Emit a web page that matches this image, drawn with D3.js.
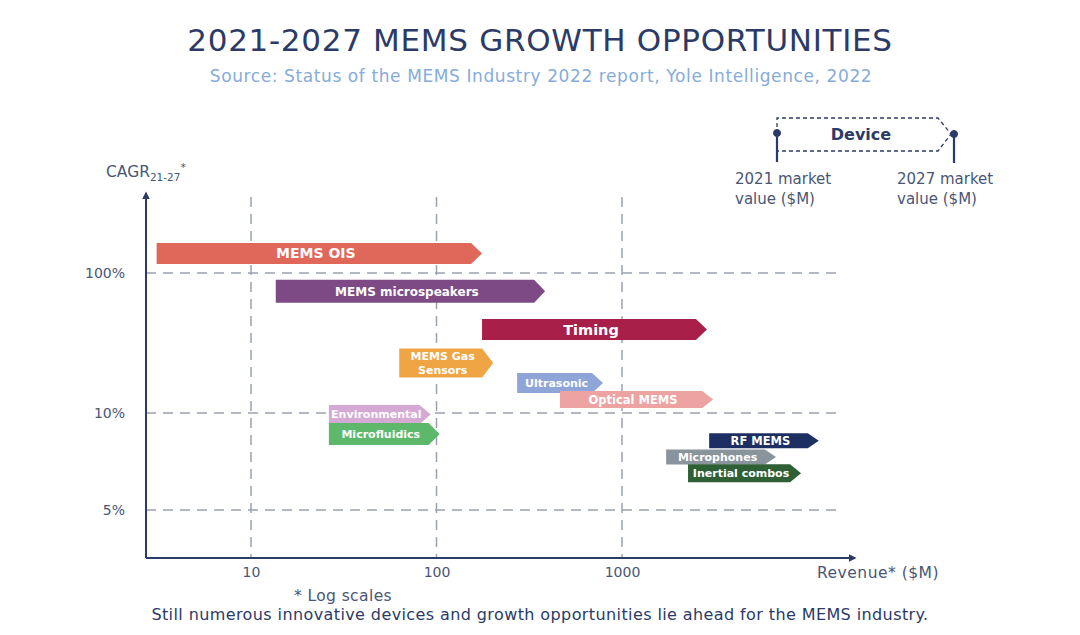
<!DOCTYPE html>
<html>
<head>
<meta charset="utf-8">
<script src="https://cdn.jsdelivr.net/npm/d3@7"></script>
<style>
  body { margin: 0; background: #fff; }
  svg { display: block; font-family: "DejaVu Sans", sans-serif; }
</style>
</head>
<body>
<svg id="chart" width="1080" height="635"></svg>
<script>
// devices, 2021 / 2027 revenue ($M) and CAGR 21-27 (%)
var devices  = ['MEMS OIS', 'MEMS microspeakers', 'Timing', 'MEMS Gas\nSensors', 'Ultrasonic',
                'Optical MEMS', 'Environmental', 'Microfluidics', 'RF MEMS', 'Microphones', 'Inertial combos'];
var rev2021  = [3.1, 13.6, 176, 63, 272, 463, 26.3, 26.3, 2950, 1730, 2270];
var rev2027  = [176, 385, 2870, 202, 790, 3100, 93, 104, 11500, 6760, 9230];
var cagr     = [138, 74, 39.5, 22.8, 16.4, 12.5, 9.9, 8.6, 8.2, 7.3, 6.5];

var xTicks = [10, 100, 1000];
var yTicks = [5, 10, 100];

// look of each arrow (colour, bar height, label size)
var looks = {
  'MEMS OIS':           { fill: '#e0685b', h: 21, fs: 14 },
  'MEMS microspeakers': { fill: '#7d4a86', h: 23, fs: 12 },
  'Timing':             { fill: '#a8204a', h: 21, fs: 14.5 },
  'MEMS Gas\nSensors':  { fill: '#efa544', h: 29, fs: 11 },
  'Ultrasonic':         { fill: '#8fa5d8', h: 20, fs: 11 },
  'Optical MEMS':       { fill: '#eca3a1', h: 17, fs: 11.5 },
  'Environmental':      { fill: '#d4aad4', h: 19, fs: 11 },
  'Microfluidics':      { fill: '#5db86b', h: 22, fs: 11 },
  'RF MEMS':            { fill: '#1d2e63', h: 15, fs: 11.5 },
  'Microphones':        { fill: '#8a949d', h: 15, fs: 11 },
  'Inertial combos':    { fill: '#2e5f35', h: 18, fs: 11 }
};

var NAVY = '#2b3a67', GREY = '#4a5675', GRID = '#9aa2ae', TIP = 11;

var svg = d3.select('#chart');

var x = d3.scaleLog().domain([10, 1000]).range([251, 622]);
var y = d3.scaleLog().domain([5, 10, 100]).range([510, 413, 273]);

var axLeft = 146, axBottom = 558, axRight = 855, axTop = 193;

// titles
svg.append('text').attr('x', 540).attr('y', 51).attr('text-anchor', 'middle')
  .attr('fill', NAVY).style('font-size', '31px').style('letter-spacing', '0.7px')
  .text('2021-2027 MEMS GROWTH OPPORTUNITIES');
svg.append('text').attr('x', 541).attr('y', 82).attr('text-anchor', 'middle')
  .attr('fill', '#86acd9').style('font-size', '17px').style('letter-spacing', '0.6px')
  .text('Source: Status of the MEMS Industry 2022 report, Yole Intelligence, 2022');

// gridlines
var grid = svg.append('g').attr('stroke', GRID).attr('stroke-width', 1.5)
  .attr('stroke-dasharray', '10,7');
grid.selectAll('.gx').data(xTicks).enter().append('line')
  .attr('x1', d => x(d)).attr('x2', d => x(d))
  .attr('y1', 197).attr('y2', axBottom);
grid.selectAll('.gy').data(yTicks).enter().append('line')
  .attr('x1', axLeft).attr('x2', 838)
  .attr('y1', d => y(d)).attr('y2', d => y(d));

// axes with arrow heads
svg.append('defs').append('marker').attr('id', 'arr')
  .attr('viewBox', '0 0 10 10').attr('refX', 8).attr('refY', 5)
  .attr('markerWidth', 4).attr('markerHeight', 4).attr('orient', 'auto')
  .append('path').attr('d', 'M0,0L10,5L0,10z').attr('fill', NAVY);
svg.append('line').attr('x1', axLeft).attr('y1', axBottom).attr('x2', axLeft).attr('y2', axTop)
  .attr('stroke', NAVY).attr('stroke-width', 2).attr('marker-end', 'url(#arr)');
svg.append('line').attr('x1', axLeft).attr('y1', axBottom).attr('x2', axRight).attr('y2', axBottom)
  .attr('stroke', NAVY).attr('stroke-width', 2).attr('marker-end', 'url(#arr)');

var xa = svg.append('g').attr('transform', 'translate(0,' + (axBottom + 6) + ')')
  .call(d3.axisBottom(x).tickValues(xTicks).tickSize(0).tickFormat(d3.format('d')));
var ya = svg.append('g').attr('transform', 'translate(' + (axLeft - 18) + ',0)')
  .call(d3.axisLeft(y).tickValues(yTicks).tickSize(0).tickFormat(d => d + '%'));
[xa, ya].forEach(function(a) {
  a.select('.domain').remove();
  a.selectAll('text').attr('fill', GREY).style('font-size', '14px')
    .style('font-family', '"DejaVu Sans", sans-serif');
});

// axis titles
var cag = svg.append('text').attr('x', 106).attr('y', 177).attr('fill', GREY)
  .style('font-size', '15.5px');
cag.append('tspan').text('CAGR');
cag.append('tspan').attr('dy', 4).style('font-size', '10.5px').text('21-27');
cag.append('tspan').attr('dy', -10).style('font-size', '11px').text('*');
svg.append('text').attr('x', 817).attr('y', 578).attr('fill', GREY)
  .style('font-size', '15.5px').style('letter-spacing', '0.5px').text('Revenue* ($M)');
svg.append('text').attr('x', 343).attr('y', 601).attr('text-anchor', 'middle')
  .attr('fill', GREY).style('font-size', '15.5px').style('letter-spacing', '0.4px').text('* Log scales');
svg.append('text').attr('x', 540).attr('y', 620).attr('text-anchor', 'middle')
  .attr('fill', NAVY).style('font-size', '16px').style('letter-spacing', '0.4px')
  .text('Still numerous innovative devices and growth opportunities lie ahead for the MEMS industry.');

// arrows
var rows = devices.map(function(d, i) {
  return { name: d, x0: x(rev2021[i]), x1: x(rev2027[i]), cy: y(cagr[i]), look: looks[d] };
});

var arrows = svg.selectAll('.dev').data(rows).enter().append('g').attr('class', 'dev');
arrows.append('path')
  .attr('fill', d => d.look.fill)
  .attr('d', function(d) {
    var h = d.look.h / 2, b = d.x1 - TIP;
    return 'M' + d.x0 + ',' + (d.cy - h) + 'L' + b + ',' + (d.cy - h) +
      'L' + d.x1 + ',' + d.cy + 'L' + b + ',' + (d.cy + h) + 'L' + d.x0 + ',' + (d.cy + h) + 'Z';
  });
arrows.each(function(d) {
  var lines = d.name.split('\n');
  var t = d3.select(this).append('text')
    .attr('text-anchor', 'middle').attr('fill', '#fff')
    .style('font-weight', 'bold').style('font-size', d.look.fs + 'px');
  lines.forEach(function(l, k) {
    t.append('tspan').attr('x', (d.x0 + d.x1 - TIP) / 2 + 2)
      .attr('y', d.cy + (k - (lines.length - 1) / 2) * 14)
      .attr('dy', '0.36em').text(l);
  });
});

// legend
var lg = svg.append('g').attr('stroke', NAVY);
lg.append('path').attr('fill', 'none').attr('stroke-width', 1.3).attr('stroke-dasharray', '4,3')
  .attr('d', 'M777,134L777,118L938,118L951,134L938,151L777,151');
lg.append('line').attr('x1', 777).attr('x2', 777).attr('y1', 133).attr('y2', 162).attr('stroke-width', 2.2);
lg.append('line').attr('x1', 954).attr('x2', 954).attr('y1', 134).attr('y2', 163).attr('stroke-width', 2.2);
lg.append('circle').attr('cx', 777).attr('cy', 133).attr('r', 3.5).attr('fill', NAVY);
lg.append('circle').attr('cx', 954).attr('cy', 134).attr('r', 3.5).attr('fill', NAVY);
svg.append('text').attr('x', 861).attr('y', 140).attr('text-anchor', 'middle').attr('fill', NAVY)
  .style('font-weight', 'bold').style('font-size', '16px').text('Device');
[[735, '2021 market'], [735, 'value ($M)'], [897, '2027 market'], [897, 'value ($M)']].forEach(function(p, i) {
  svg.append('text').attr('x', p[0]).attr('y', 184 + (i % 2) * 20).attr('fill', GREY)
    .style('font-size', '15px').text(p[1]);
});
</script>
</body>
</html>
